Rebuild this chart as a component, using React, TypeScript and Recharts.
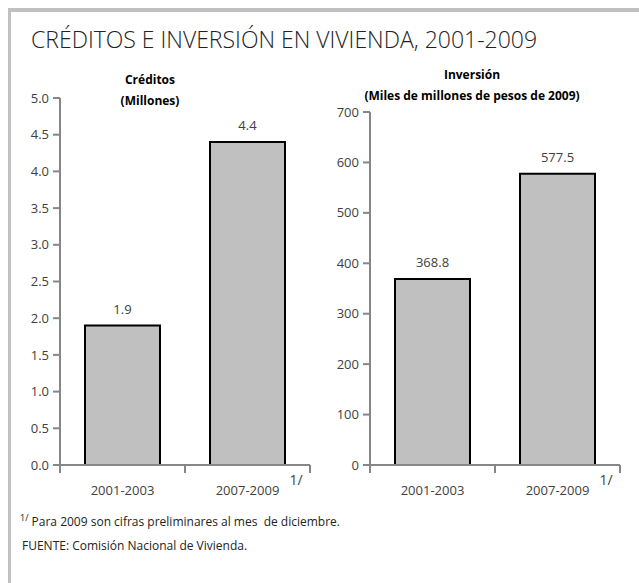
import React from 'react';
import { BarChart, Bar, XAxis, YAxis, LabelList } from 'recharts';

const periods = ['2001-2003', '2007-2009'];
const creditos = [1.9, 4.4];
const inversion = [368.8, 577.5];
const creditosTicks = [0, 0.5, 1, 1.5, 2, 2.5, 3, 3.5, 4, 4.5, 5];
const inversionTicks = [0, 100, 200, 300, 400, 500, 600, 700];

const FONT = '"Open Sans", sans-serif';
const AXIS = '#868686';
const TEXT = '#404040';

const creditosData = periods.map((p, i) => ({ period: p, value: creditos[i] }));
const inversionData = periods.map((p, i) => ({ period: p, value: inversion[i] }));

// category label plus tick marks on the band edges
const PeriodTick = (props: any) => {
  const { x, y, payload, index } = props;
  const cx = Number(x);
  const cy = Number(y);
  const half = Number(payload?.offset) || 62.5;
  const last = index === periods.length - 1;
  return (
    <g>
      {index === 0 && <rect x={cx - half - 1} y={cy} width={2} height={8} fill={AXIS} />}
      <rect x={cx + half - 1} y={cy} width={2} height={8} fill={AXIS} />
      <text x={cx} y={cy + 30} textAnchor="middle" fill={TEXT} fontSize={13} fontFamily={FONT}>
        {payload.value}
      </text>
      {last && (
        <text x={cx + 42} y={cy + 20} fill={TEXT} fontSize={14} fontFamily={FONT}>
          1/
        </text>
      )}
    </g>
  );
};

function Panel({ data, ticks, max, fmt, top }: {
  data: { period: string; value: number }[];
  ticks: number[];
  max: number;
  fmt: (v: number) => string;
  top: number;
}) {
  return (
    <BarChart
      width={330}
      height={440}
      data={data}
      margin={{ top, right: 20, left: 0, bottom: 5 }}
      barCategoryGap="20%"
    >
      <XAxis
        dataKey="period"
        height={30}
        interval={0}
        axisLine={{ stroke: AXIS, strokeWidth: 2 }}
        tickLine={false}
        tickSize={0}
        tickMargin={0}
        tick={<PeriodTick />}
      />
      <YAxis
        domain={[0, max]}
        ticks={ticks}
        width={60}
        interval={0}
        tickFormatter={fmt}
        axisLine={{ stroke: AXIS, strokeWidth: 2 }}
        tickLine={{ stroke: AXIS, strokeWidth: 2 }}
        tickSize={7}
        tickMargin={4}
        tick={{ fill: TEXT, fontSize: 13, fontFamily: FONT }}
      />
      <Bar dataKey="value" fill="#c0c0c0" stroke="#000" strokeWidth={2} isAnimationActive={false}>
        <LabelList
          dataKey="value"
          position="top"
          offset={12}
          formatter={(v: any) => String(v)}
          style={{ fill: TEXT, fontSize: 13, fontFamily: FONT }}
        />
      </Bar>
    </BarChart>
  );
}

const sub: React.CSSProperties = {
  position: 'absolute',
  fontFamily: FONT,
  fontWeight: 700,
  fontSize: 12,
  color: '#000',
  textAlign: 'center',
  lineHeight: '21px',
};

const note: React.CSSProperties = {
  position: 'absolute',
  fontFamily: FONT,
  fontSize: 12,
  color: '#222',
  whiteSpace: 'nowrap',
};

export default function App() {
  return (
    <div style={{ position: 'absolute', left: 0, top: 0, width: 639, height: 583, background: '#fff', overflow: 'hidden' }}>
      <div style={{ position: 'absolute', left: 8, top: 8, width: 631, height: 4, background: '#c0c0c0' }} />
      <div style={{ position: 'absolute', left: 8, top: 8, width: 3, height: 575, background: '#c0c0c0' }} />
      <div style={{ position: 'absolute', left: 31, top: 23, fontFamily: FONT, fontWeight: 300, fontSize: 23, color: '#222', whiteSpace: 'nowrap' }}>
        CRÉDITOS E INVERSIÓN EN VIVIENDA, 2001-2009
      </div>
      <div style={{ ...sub, left: 90, top: 69, width: 120 }}>
        Créditos<br />(Millones)
      </div>
      <div style={{ ...sub, left: 352, top: 64, width: 240 }}>
        Inversión<br />(Miles de millones de pesos de 2009)
      </div>
      <div style={{ position: 'absolute', left: 0, top: 60 }}>
        <Panel data={creditosData} ticks={creditosTicks} max={5} fmt={(v) => v.toFixed(1)} top={38} />
      </div>
      <div style={{ position: 'absolute', left: 310, top: 60 }}>
        <Panel data={inversionData} ticks={inversionTicks} max={700} fmt={(v) => String(v)} top={52} />
      </div>
      <div style={{ ...note, left: 20, top: 511 }}>
        <sup style={{ fontSize: 9 }}>1/</sup> Para 2009 son cifras preliminares al mes&nbsp; de diciembre.
      </div>
      <div style={{ ...note, left: 22, top: 537 }}>
        FUENTE: Comisión Nacional de Vivienda.
      </div>
    </div>
  );
}
